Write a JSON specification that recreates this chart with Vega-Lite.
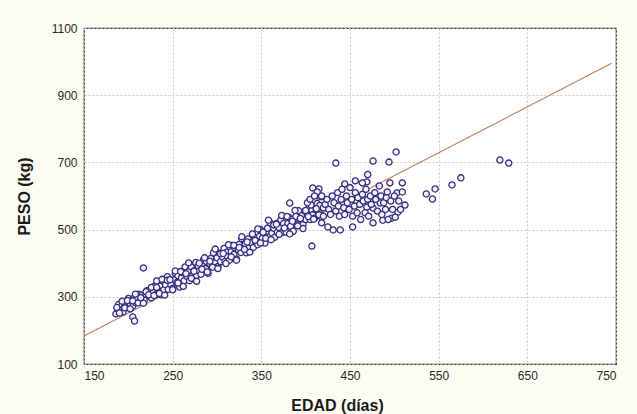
{
  "$schema": "https://vega.github.io/schema/vega-lite/v6.json",
  "width": 532,
  "height": 336,
  "autosize": "none",
  "padding": {"left": 84, "top": 28, "right": 21, "bottom": 50},
  "background": "#fdfcf2",
  "config": {
    "view": {"fill": "#ffffff", "stroke": "#333333", "strokeWidth": 1.2},
    "font": "Liberation Sans"
  },
  "datasets": {
    "pts": [
      {"edad":186,"peso":249},{"edad":188,"peso":265},{"edad":189,"peso":277},{"edad":191,"peso":262},{"edad":193,"peso":276},{"edad":194,"peso":255},{"edad":196,"peso":273},{"edad":197,"peso":283},{"edad":199,"peso":270},{"edad":200,"peso":295},
      {"edad":202,"peso":279},{"edad":204,"peso":288},{"edad":205,"peso":272},{"edad":207,"peso":298},{"edad":208,"peso":283},{"edad":210,"peso":293},{"edad":212,"peso":308},{"edad":213,"peso":286},{"edad":215,"peso":304},{"edad":216,"peso":296},
      {"edad":218,"peso":290},{"edad":220,"peso":307},{"edad":221,"peso":318},{"edad":223,"peso":304},{"edad":224,"peso":316},{"edad":226,"peso":297},{"edad":228,"peso":314},{"edad":229,"peso":331},{"edad":231,"peso":306},{"edad":232,"peso":347},
      {"edad":234,"peso":319},{"edad":236,"peso":332},{"edad":237,"peso":306},{"edad":239,"peso":347},{"edad":240,"peso":321},{"edad":242,"peso":336},{"edad":244,"peso":360},{"edad":245,"peso":322},{"edad":247,"peso":349},{"edad":248,"peso":336},
      {"edad":250,"peso":325},{"edad":252,"peso":351},{"edad":253,"peso":369},{"edad":255,"peso":343},{"edad":256,"peso":363},{"edad":258,"peso":329},{"edad":260,"peso":356},{"edad":261,"peso":372},{"edad":263,"peso":348},{"edad":264,"peso":389},
      {"edad":266,"peso":361},{"edad":268,"peso":375},{"edad":269,"peso":348},{"edad":271,"peso":389},{"edad":272,"peso":363},{"edad":274,"peso":377},{"edad":276,"peso":402},{"edad":277,"peso":363},{"edad":279,"peso":391},{"edad":280,"peso":377},
      {"edad":282,"peso":367},{"edad":284,"peso":393},{"edad":285,"peso":411},{"edad":287,"peso":384},{"edad":288,"peso":405},{"edad":290,"peso":370},{"edad":292,"peso":398},{"edad":293,"peso":414},{"edad":295,"peso":390},{"edad":296,"peso":431},
      {"edad":298,"peso":403},{"edad":300,"peso":416},{"edad":301,"peso":390},{"edad":303,"peso":430},{"edad":304,"peso":405},{"edad":306,"peso":419},{"edad":308,"peso":444},{"edad":309,"peso":405},{"edad":311,"peso":433},{"edad":312,"peso":419},
      {"edad":314,"peso":409},{"edad":316,"peso":434},{"edad":317,"peso":453},{"edad":319,"peso":426},{"edad":320,"peso":446},{"edad":322,"peso":412},{"edad":324,"peso":440},{"edad":325,"peso":456},{"edad":327,"peso":432},{"edad":328,"peso":473},
      {"edad":330,"peso":444},{"edad":332,"peso":458},{"edad":333,"peso":431},{"edad":335,"peso":472},{"edad":336,"peso":446},{"edad":338,"peso":461},{"edad":340,"peso":485},{"edad":341,"peso":447},{"edad":343,"peso":474},{"edad":344,"peso":461},
      {"edad":346,"peso":455},{"edad":348,"peso":480},{"edad":349,"peso":500},{"edad":351,"peso":474},{"edad":352,"peso":494},{"edad":354,"peso":460},{"edad":356,"peso":487},{"edad":357,"peso":504},{"edad":359,"peso":479},{"edad":360,"peso":520},
      {"edad":362,"peso":490},{"edad":364,"peso":504},{"edad":365,"peso":477},{"edad":367,"peso":518},{"edad":368,"peso":492},{"edad":370,"peso":506},{"edad":372,"peso":529},{"edad":373,"peso":491},{"edad":375,"peso":518},{"edad":376,"peso":503},
      {"edad":378,"peso":492},{"edad":380,"peso":518},{"edad":381,"peso":536},{"edad":383,"peso":510},{"edad":384,"peso":530},{"edad":386,"peso":495},{"edad":388,"peso":523},{"edad":389,"peso":539},{"edad":391,"peso":515},{"edad":392,"peso":556},
      {"edad":394,"peso":528},{"edad":396,"peso":542},{"edad":397,"peso":515},{"edad":399,"peso":555},{"edad":400,"peso":530},{"edad":402,"peso":544},{"edad":404,"peso":569},{"edad":405,"peso":530},{"edad":407,"peso":558},{"edad":408,"peso":544},
      {"edad":410,"peso":534},{"edad":412,"peso":559},{"edad":413,"peso":578},{"edad":415,"peso":551},{"edad":416,"peso":572},{"edad":418,"peso":537},{"edad":420,"peso":565},
      {"edad":187,"peso":268},{"edad":190,"peso":252},{"edad":193,"peso":287},{"edad":196,"peso":267},{"edad":199,"peso":289},{"edad":202,"peso":264},{"edad":205,"peso":288},{"edad":208,"peso":308},{"edad":211,"peso":282},{"edad":214,"peso":297},
      {"edad":217,"peso":281},{"edad":220,"peso":315},{"edad":223,"peso":306},{"edad":226,"peso":328},{"edad":229,"peso":304},{"edad":232,"peso":328},{"edad":235,"peso":310},{"edad":238,"peso":352},{"edad":241,"peso":305},{"edad":244,"peso":349},
      {"edad":247,"peso":351},{"edad":250,"peso":321},{"edad":253,"peso":377},{"edad":256,"peso":341},{"edad":259,"peso":375},{"edad":262,"peso":331},{"edad":265,"peso":369},{"edad":268,"peso":401},{"edad":271,"peso":355},{"edad":274,"peso":376},
      {"edad":277,"peso":346},{"edad":280,"peso":400},{"edad":283,"peso":382},{"edad":286,"peso":416},{"edad":289,"peso":374},{"edad":292,"peso":406},{"edad":295,"peso":388},{"edad":298,"peso":442},{"edad":301,"peso":384},{"edad":304,"peso":428},
      {"edad":307,"peso":429},{"edad":310,"peso":399},{"edad":313,"peso":455},{"edad":316,"peso":419},{"edad":319,"peso":453},{"edad":322,"peso":409},{"edad":325,"peso":447},{"edad":328,"peso":479},{"edad":331,"peso":441},{"edad":334,"peso":463},
      {"edad":337,"peso":433},{"edad":340,"peso":487},{"edad":343,"peso":468},{"edad":346,"peso":502},{"edad":349,"peso":460},{"edad":352,"peso":492},{"edad":355,"peso":474},{"edad":358,"peso":528},{"edad":361,"peso":470},{"edad":364,"peso":514},
      {"edad":367,"peso":516},{"edad":370,"peso":486},{"edad":373,"peso":542},{"edad":376,"peso":505},{"edad":379,"peso":539},{"edad":382,"peso":487},{"edad":385,"peso":525},{"edad":388,"peso":557},{"edad":391,"peso":511},{"edad":394,"peso":533},
      {"edad":397,"peso":503},{"edad":400,"peso":557},{"edad":403,"peso":539},{"edad":406,"peso":573},{"edad":409,"peso":531},{"edad":412,"peso":562},{"edad":415,"peso":544},{"edad":418,"peso":598},
      {"edad":217,"peso":386},{"edad":205,"peso":240},{"edad":207,"peso":228},
      {"edad":434,"peso":698},{"edad":476,"peso":704},{"edad":494,"peso":701},{"edad":502,"peso":731},{"edad":470,"peso":664},{"edad":469,"peso":642},{"edad":464,"peso":639},{"edad":456,"peso":645},{"edad":444,"peso":636},{"edad":415,"peso":621},
      {"edad":415,"peso":600},{"edad":382,"peso":579},{"edad":407,"peso":451},{"edad":453,"peso":508},{"edad":487,"peso":528},{"edad":497,"peso":534},{"edad":512,"peso":573},{"edad":504,"peso":552},{"edad":501,"peso":537},{"edad":495,"peso":639},
      {"edad":503,"peso":609},{"edad":492,"peso":612},{"edad":484,"peso":579},{"edad":476,"peso":564},{"edad":469,"peso":567},{"edad":439,"peso":499},{"edad":431,"peso":499},{"edad":425,"peso":508},{"edad":408,"peso":624},{"edad":413,"peso":612},
      {"edad":509,"peso":639},{"edad":509,"peso":612},{"edad":536,"peso":606},{"edad":543,"peso":591},{"edad":546,"peso":621},{"edad":565,"peso":633},{"edad":575,"peso":654},{"edad":619,"peso":707},{"edad":629,"peso":698},
      {"edad":422,"peso":575},{"edad":424,"peso":590},{"edad":426,"peso":560},{"edad":428,"peso":545},{"edad":430,"peso":600},{"edad":432,"peso":580},{"edad":434,"peso":555},{"edad":436,"peso":610},{"edad":437,"peso":570},{"edad":438,"peso":540},
      {"edad":440,"peso":590},{"edad":441,"peso":620},{"edad":443,"peso":565},{"edad":444,"peso":545},{"edad":446,"peso":600},{"edad":447,"peso":580},{"edad":449,"peso":560},{"edad":450,"peso":625},{"edad":452,"peso":590},{"edad":453,"peso":540},
      {"edad":455,"peso":570},{"edad":456,"peso":610},{"edad":458,"peso":550},{"edad":459,"peso":595},{"edad":461,"peso":575},{"edad":462,"peso":530},{"edad":464,"peso":605},{"edad":465,"peso":585},{"edad":467,"peso":550},{"edad":468,"peso":620},
      {"edad":470,"peso":590},{"edad":471,"peso":540},{"edad":473,"peso":600},{"edad":474,"peso":575},{"edad":476,"peso":520},{"edad":478,"peso":610},{"edad":479,"peso":590},{"edad":481,"peso":555},{"edad":483,"peso":630},{"edad":485,"peso":600},
      {"edad":486,"peso":545},{"edad":488,"peso":580},{"edad":490,"peso":560},{"edad":491,"peso":595},{"edad":493,"peso":530},{"edad":496,"peso":585},{"edad":498,"peso":560},{"edad":500,"peso":600},{"edad":505,"peso":585},{"edad":507,"peso":560},
      {"edad":402,"peso":580},{"edad":405,"peso":590},{"edad":410,"peso":600},{"edad":418,"peso":600},{"edad":420,"peso":540},{"edad":418,"peso":520}
    ],
    "fit": [
      {"edad":150,"peso":183},{"edad":745,"peso":995}
    ]
  },
  "layer": [
    {
      "data": {"name": "fit"},
      "mark": {"type": "line", "color": "#c47d5e", "strokeWidth": 1.1},
      "encoding": {
        "x": {"field": "edad", "type": "quantitative"},
        "y": {"field": "peso", "type": "quantitative"}
      }
    },
    {
      "data": {"name": "pts"},
      "mark": {"type": "point", "shape": "circle", "filled": true, "fill": "#f4f3ff", "stroke": "#342e7c", "strokeWidth": 1.3, "size": 38, "opacity": 1},
      "encoding": {
        "x": {
          "field": "edad", "type": "quantitative",
          "scale": {"domain": [150, 750], "nice": false, "zero": false},
          "axis": {
            "title": "EDAD (días)", "values": [150, 250, 350, 450, 550, 650, 750], "format": "d",
            "grid": true, "gridColor": "#c8c8c8", "gridDash": [2, 2], "gridWidth": 1,
            "ticks": false, "domain": false, "labelPadding": 6,
            "labelFont": "Liberation Sans", "labelFontSize": 12, "labelColor": "#2a2a2a",
            "titleFont": "Liberation Sans", "titleFontSize": 16, "titleFontWeight": "bold", "titleColor": "#1a1a1a",
            "titleAnchor": "start", "titleAlign": "center", "titleX": 253, "titleY": 46, "titleBaseline": "alphabetic"
          }
        },
        "y": {
          "field": "peso", "type": "quantitative",
          "scale": {"domain": [100, 1100], "nice": false, "zero": false},
          "axis": {
            "title": "PESO (kg)", "values": [100, 300, 500, 700, 900, 1100], "format": "d",
            "grid": true, "gridColor": "#c8c8c8", "gridDash": [2, 2], "gridWidth": 1,
            "ticks": false, "domain": false, "labelPadding": 7,
            "labelFont": "Liberation Sans", "labelFontSize": 12, "labelColor": "#2a2a2a",
            "titleFont": "Liberation Sans", "titleFontSize": 16, "titleFontWeight": "bold", "titleColor": "#1a1a1a",
            "titleX": -52, "titleBaseline": "bottom"
          }
        }
      }
    }
  ]
}
